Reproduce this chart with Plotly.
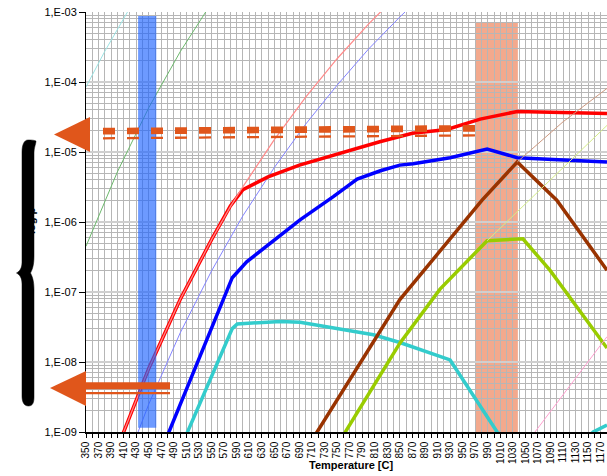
import plotly.graph_objects as go

# ---------------- data (temperature in C, vapour pressure) ----------------
t_cyan_thin = [350, 380, 420]
p_cyan_thin = [8.5e-5, 2.75e-4, 1.15e-3]

t_green_thin = [350, 400, 450, 500, 550]
p_green_thin = [4.5e-7, 5.2e-6, 4.3e-5, 2.7e-4, 1.35e-3]

t_blue_thin = [400, 450, 500, 550, 600, 650, 700, 750, 800, 850, 900]
p_blue_thin = [1.7e-10, 2.5e-9, 2.6e-8, 2.0e-7, 1.23e-6, 6.0e-6, 2.5e-5, 9.0e-5, 2.95e-4, 8.5e-4, 2.3e-3]

t_red_thin = [350, 410, 450, 500, 550, 580, 600, 650, 700, 750, 800, 850]
p_red_thin = [2.9e-11, 1.0e-9, 8.1e-9, 7.8e-8, 5.6e-7, 1.66e-6, 3.2e-6, 1.5e-5, 6.1e-5, 2.15e-4, 6.7e-4, 1.9e-3]

t_red = [350, 410, 450, 500, 550, 580, 600, 640, 690, 745, 770, 818, 870, 925, 978, 1037, 1180]
p_red = [2.9e-11, 1.0e-9, 8.1e-9, 7.8e-8, 5.6e-7, 1.7e-6, 2.9e-6, 4.4e-6, 6.5e-6, 9.1e-6,
         1.07e-5, 1.4e-5, 1.85e-5, 2.1e-5, 2.95e-5, 3.8e-5, 3.55e-5]

t_blue = [350, 482, 583, 606, 638, 691, 744, 782, 819, 850, 871, 930, 989, 1037, 1094, 1180]
p_blue = [1.3e-12, 1.0e-9, 1.6e-7, 2.7e-7, 4.5e-7, 1.07e-6, 2.3e-6, 4.1e-6, 5.4e-6, 6.5e-6,
          6.8e-6, 8.3e-6, 1.1e-5, 8.3e-6, 7.8e-6, 7.2e-6]

t_cyan = [480, 583, 591, 660, 691, 744, 808, 850, 930, 1005, 1090, 1158, 1180]
p_cyan = [2.2e-10, 3.0e-8, 3.5e-8, 3.8e-8, 3.7e-8, 3.1e-8, 2.45e-8, 1.9e-8, 1.07e-8, 1.0e-9,
          2.5e-10, 1.0e-9, 1.26e-9]

t_brown = [700, 718, 783, 850, 981, 1037, 1100, 1140, 1180]
p_brown = [5.5e-10, 1.0e-9, 8.7e-9, 7.8e-8, 2.05e-6, 7.2e-6, 2.05e-6, 6.5e-7, 2.05e-7]

t_yg = [740, 763, 850, 914, 989, 1046, 1089, 1180]
p_yg = [4.6e-10, 1.0e-9, 1.86e-8, 1.1e-7, 5.4e-7, 5.75e-7, 2.05e-7, 1.58e-8]

t_tan_thin = [1037, 1110, 1180]
p_tan_thin = [7.2e-6, 2.7e-5, 8.1e-5]

t_yg_thin = [989, 1180]
p_yg_thin = [5.4e-7, 2.4e-5]

t_pink_thin = [1050, 1180]
p_pink_thin = [6.6e-10, 2.3e-8]

# highlighted temperature windows
blue_band = [433, 462, 1.15e-9, 8.8e-4]
salmon_band = [970, 1038, 1.0e-9, 7.0e-4]

x_ticks = list(range(350, 1171, 10))
x_labels = [str(v) if (v - 350) % 20 == 0 else "" for v in x_ticks]
y_ticks = [1e-9, 1e-8, 1e-7, 1e-6, 1e-5, 1e-4, 1e-3]
y_labels = ["1,E-09", "1,E-08", "1,E-07", "1,E-06", "1,E-05", "1,E-04", "1,E-03"]
y_minor = [m * 10.0 ** e for e in range(-9, -3) for m in range(2, 10)]

# ---------------- layout geometry ----------------
W, H = 607, 476
ML, MR, MT, MB = 86, 0, 12, 44
PW, PH = W - ML - MR, H - MT - MB


def px(x):
    return (x - ML) / PW


def py(y):
    return (H - MB - y) / PH


def path(cmds):
    out = []
    for c in cmds:
        if isinstance(c, str):
            out.append(c)
        else:
            out.append(f"{px(c[0]):.5f},{py(c[1]):.5f}")
    return " ".join(out)


FONT = "Arial, Liberation Sans, sans-serif"
fig = go.Figure()


def add(t, p, color, width):
    fig.add_trace(go.Scatter(x=t, y=p, mode="lines", line=dict(color=color, width=width),
                             hoverinfo="skip", showlegend=False))


add(t_cyan_thin, p_cyan_thin, "#9BE3E3", 1)
add(t_green_thin, p_green_thin, "#6CB86C", 1)
add(t_blue_thin, p_blue_thin, "#8484FF", 1)
add(t_cyan, p_cyan, "#33CCCC", 3.5)
add(t_brown, p_brown, "#993300", 3.5)
add(t_yg, p_yg, "#99CC00", 3.5)
add(t_blue, p_blue, "#0000FF", 3.5)
add(t_red, p_red, "#FF0000", 3.5)
add(t_red_thin, p_red_thin, "#FF8A8A", 1.2)
add(t_tan_thin, p_tan_thin, "#CC9980", 1)
add(t_yg_thin, p_yg_thin, "#D4EC88", 1)
add(t_pink_thin, p_pink_thin, "#FF9FCF", 1)

shapes = []
shapes.append(dict(type="rect", xref="x", yref="y", x0=salmon_band[0], x1=salmon_band[1],
                   y0=salmon_band[2], y1=salmon_band[3], fillcolor="#F3A98D",
                   line=dict(width=0), layer="below"))
shapes.append(dict(type="rect", xref="x", yref="y", x0=blue_band[0], x1=blue_band[1],
                   y0=blue_band[2], y1=blue_band[3], fillcolor="rgba(30,100,255,0.65)",
                   line=dict(width=0), layer="above"))

ORANGE = "#E0561B"
# top arrow: triangle + double dashed line
shapes.append(dict(type="path", xref="paper", yref="paper",
                   path=path(["M", (54, 134.5), "L", (90, 117), "L", (90, 152), "Z"]),
                   fillcolor=ORANGE, line=dict(width=0), layer="above"))
shapes.append(dict(type="line", xref="paper", yref="paper", x0=px(103), y0=py(131.2),
                   x1=px(475), y1=py(128.3), line=dict(color=ORANGE, width=6.7, dash="12px,12px"),
                   layer="above"))
shapes.append(dict(type="line", xref="paper", yref="paper", x0=px(103), y0=py(138.3),
                   x1=px(475), y1=py(135.4), line=dict(color=ORANGE, width=2.3, dash="12px,12px"),
                   layer="above"))
# bottom arrow
shapes.append(dict(type="path", xref="paper", yref="paper",
                   path=path(["M", (50, 388), "L", (86, 371), "L", (86, 406), "Z"]),
                   fillcolor=ORANGE, line=dict(width=0), layer="above"))
shapes.append(dict(type="line", xref="paper", yref="paper", x0=px(86), y0=py(385.8),
                   x1=px(170), y1=py(385.8), line=dict(color=ORANGE, width=7), layer="above"))
shapes.append(dict(type="line", xref="paper", yref="paper", x0=px(86), y0=py(393.2),
                   x1=px(170), y1=py(393.2), line=dict(color=ORANGE, width=2.3), layer="above"))

# curly brace
brace = ["M", (28, 140),
         "C", (24, 140), (22, 145), (22, 152),
         "L", (22, 262),
         "C", (22, 268), (20, 271), (16.5, 273),
         "C", (20, 275), (22, 278), (22, 284),
         "L", (22, 396),
         "C", (22, 402), (24, 406), (28.5, 406),
         "C", (33, 406), (34, 402), (34, 397),
         "L", (34, 290),
         "C", (34, 280), (32, 276), (30.5, 273),
         "C", (32, 270), (34, 266), (34, 256),
         "L", (34, 153),
         "C", (34, 147), (36, 144), (36, 141),
         "C", (34, 140), (31, 140), (28, 140), "Z"]
shapes.append(dict(type="path", xref="paper", yref="paper", path=path(brace),
                   fillcolor="black", line=dict(color="black", width=0.5), layer="above"))

annotations = [
    dict(text="<b>Temperature [C]</b>", xref="paper", yref="paper", x=px(351), y=py(465),
         xanchor="center", yanchor="middle", showarrow=False,
         font=dict(family=FONT, size=11, color="black")),
    dict(text="<b>log p</b>", xref="paper", yref="paper", x=px(31), y=py(221),
         xanchor="center", yanchor="middle", showarrow=False, textangle=-90,
         font=dict(family=FONT, size=11, color="black")),
]

GRID = "#B6B6B6"
fig.update_layout(
    width=W, height=H, margin=dict(l=ML, r=MR, t=MT, b=MB, autoexpand=False),
    paper_bgcolor="white", plot_bgcolor="white", showlegend=False,
    shapes=shapes, annotations=annotations,
    font=dict(family=FONT, color="black"),
    xaxis=dict(range=[350, 1180], tickmode="array", tickvals=x_ticks, ticktext=x_labels,
               tickangle=-90, tickfont=dict(size=10, family=FONT), ticks="outside", ticklen=4,
               tickcolor="black", showline=True, linecolor="black", linewidth=1.5,
               showgrid=True, gridcolor=GRID, gridwidth=1, zeroline=False),
    yaxis=dict(type="log", range=[-9, -3], tickmode="array", tickvals=y_ticks, ticktext=y_labels,
               tickfont=dict(size=11, family=FONT), ticks="outside", ticklen=6, tickcolor="black",
               showline=True, linecolor="black", linewidth=1,
               showgrid=True, gridcolor="#CFCFCF", gridwidth=2, zeroline=False,
               minor=dict(tickmode="array", tickvals=y_minor, showgrid=True, gridcolor=GRID,
                          gridwidth=1, ticks="")),
)

fig.write_html("out.html")
